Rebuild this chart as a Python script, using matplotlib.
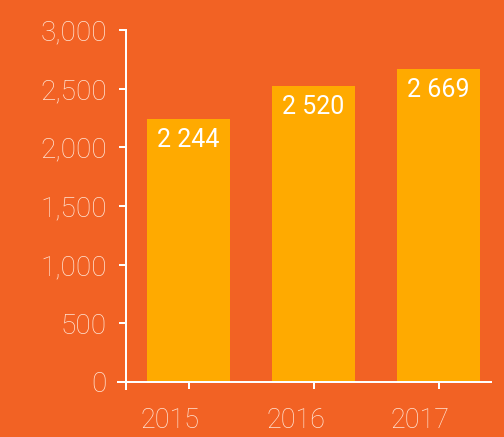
import matplotlib.pyplot as plt
from matplotlib.transforms import ScaledTranslation

years = ['2015', '2016', '2017']
values = [2244, 2520, 2669]
labels = ['2 244', '2 520', '2 669']
y_ticks = [0, 500, 1000, 1500, 2000, 2500, 3000]

bg = '#F26224'
bar_color = '#FFAA00'
pale = '#FFE4D4'

fig = plt.figure(figsize=(7, 437 / 72), dpi=72, facecolor=bg)
ax = fig.add_axes([118 / 504, (437 - 389) / 437, (491 - 118) / 504, (389 - 30) / 437])
ax.set_facecolor(bg)

x = list(range(len(years)))
bars = ax.bar(x, values, width=0.664, color=bar_color, zorder=2)

for bar, txt in zip(bars, labels):
    ax.annotate(txt, (bar.get_x() + bar.get_width() / 2, bar.get_height()),
                xytext=(0, -9), textcoords='offset points', ha='center', va='top',
                color='white', fontsize=25, family='Roboto')

ax.set_xlim(-0.564, 2.42)
ax.set_ylim(-60, 3000)

# spines crossing at (-0.5, 0)
for side in ['top', 'right']:
    ax.spines[side].set_visible(False)
ax.spines['left'].set_position(('data', -0.5))
ax.spines['bottom'].set_position(('data', 0))
ax.spines['left'].set_bounds(-60, 3000)
for side in ['left', 'bottom']:
    ax.spines[side].set_color('white')
    ax.spines[side].set_linewidth(2)

ax.set_yticks(y_ticks)
ax.set_yticklabels([f'{v:,}' for v in y_ticks])
ax.set_xticks(x)
ax.set_xticklabels(years)
ax.tick_params(colors='white', width=2, length=7)
ax.tick_params(axis='y', labelcolor=pale, labelsize=28, pad=12)
ax.tick_params(axis='x', labelcolor=pale, labelsize=27, pad=18)
for lab in ax.get_yticklabels() + ax.get_xticklabels():
    lab.set_family('Roboto')
    lab.set_fontweight('light')
for lab in ax.get_xticklabels():
    lab.set_transform(lab.get_transform() + ScaledTranslation(-18 / 72, 0, fig.dpi_scale_trans))

fig.savefig('out.png', dpi=72, facecolor=bg)
